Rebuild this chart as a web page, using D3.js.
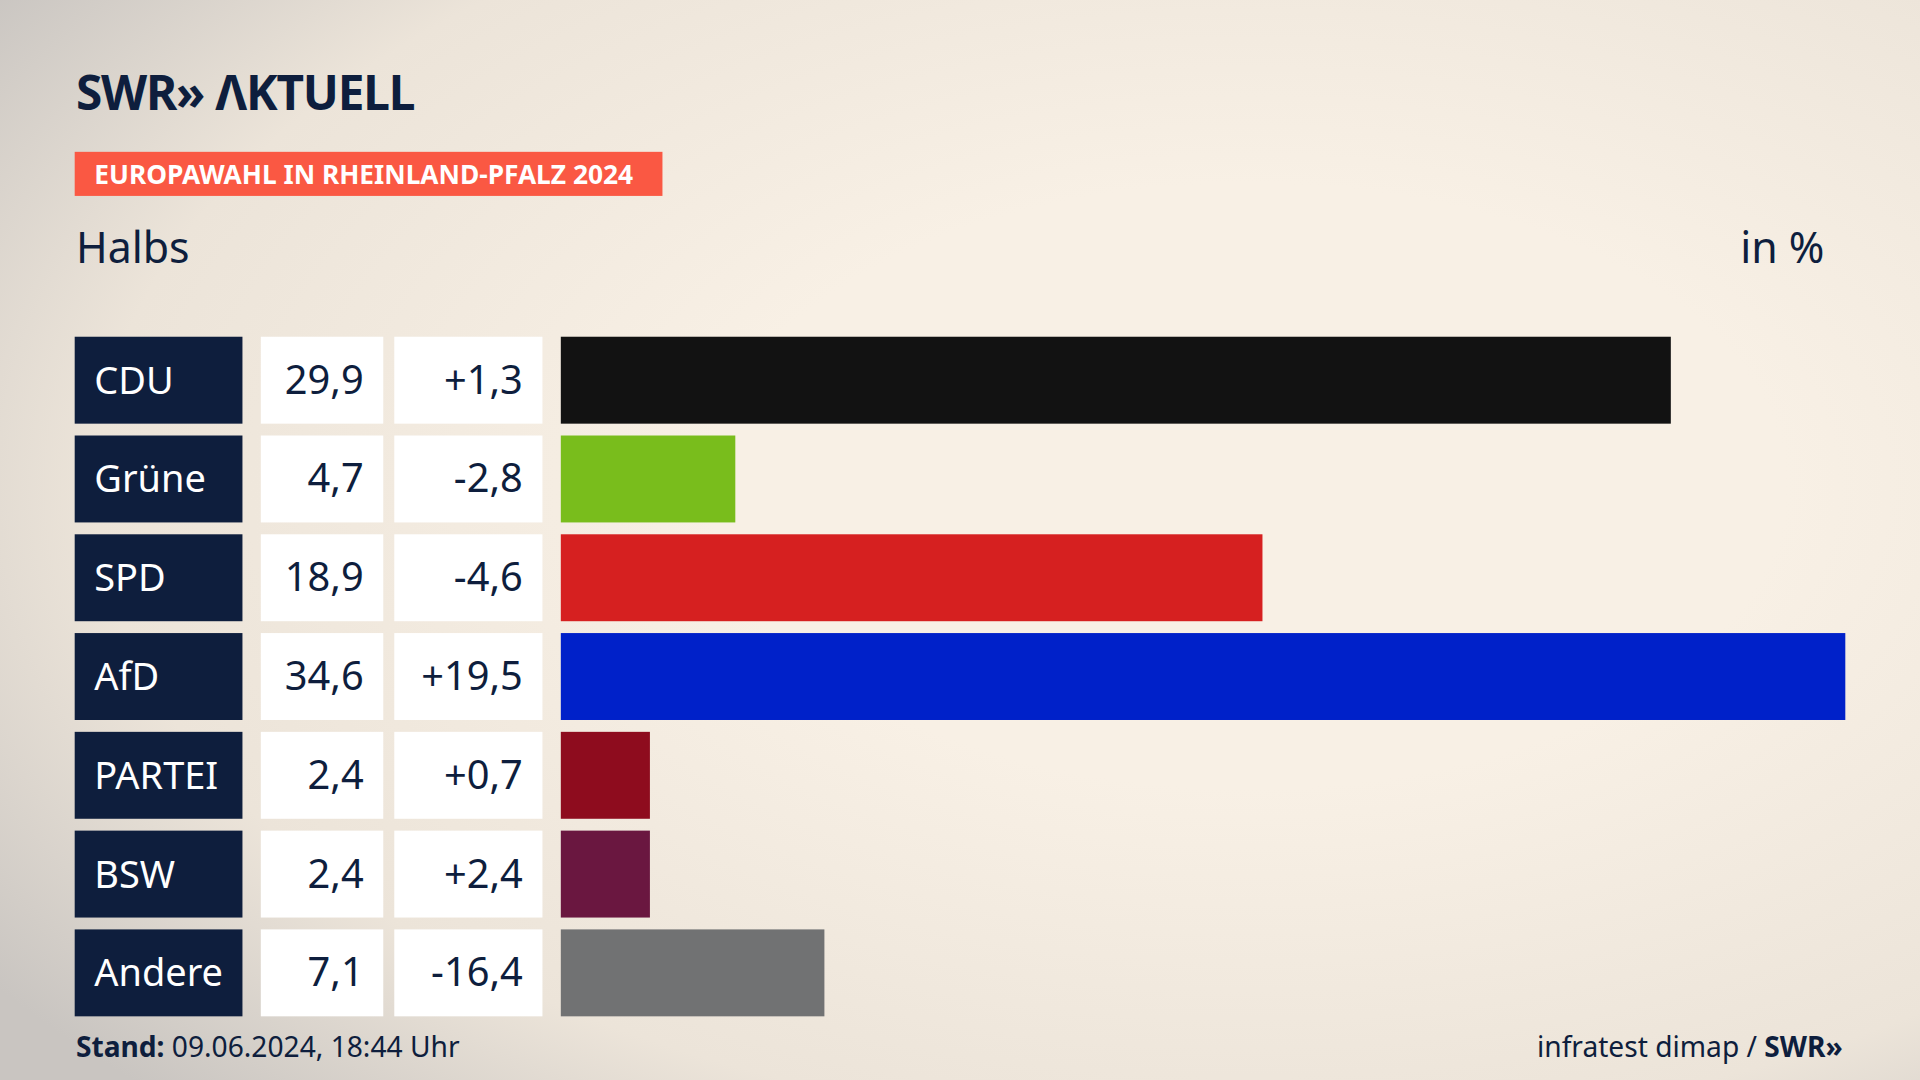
<!DOCTYPE html>
<html><head><meta charset="utf-8">
<script src="https://cdn.jsdelivr.net/npm/d3@7"></script>
<style>body{margin:0;overflow:hidden}svg{display:block;font-family:"Noto Sans",sans-serif}</style>
</head><body><svg id="c" width="1920" height="1080" viewBox="0 0 1568 882"></svg>
<script>
const parties = ["CDU", "Grüne", "SPD", "AfD", "PARTEI", "BSW", "Andere"];
const shares = [29.9, 4.7, 18.9, 34.6, 2.4, 2.4, 7.1];
const diffs = ["+1,3", "-2,8", "-4,6", "+19,5", "+0,7", "+2,4", "-16,4"];
const colors = ["#121212", "#79bd1c", "#d62020", "#0021c9", "#8e0c1e", "#6a1740", "#717273"];

const svg = d3.select("#c");
const navy = "#0e1e3d";
const defs = svg.append("defs");
const g1 = defs.append("radialGradient").attr("id", "bg").attr("cx", "0.65").attr("cy", "0.45").attr("r", "0.8");
g1.append("stop").attr("offset", "0.35").attr("stop-color", "#f8f0e5");
g1.append("stop").attr("offset", "0.75").attr("stop-color", "#ece4d9");
g1.append("stop").attr("offset", "1").attr("stop-color", "#c9c5c1");
svg.append("rect").attr("width", 1568).attr("height", 882).attr("fill", "url(#bg)");

svg.append("text").attr("x", 62).attr("y", 90).attr("font-size", 39).attr("font-weight", 700)
  .attr("fill", navy).attr("letter-spacing", -1).text("SWR» ΛKTUELL");
svg.append("rect").attr("x", 61).attr("y", 124).attr("width", 480).attr("height", 36).attr("fill", "#fa5843");
svg.append("text").attr("x", 77).attr("y", 150).attr("font-size", 21.5).attr("font-weight", 700)
  .attr("fill", "#fff").text("EUROPAWAHL IN RHEINLAND-PFALZ 2024");
svg.append("text").attr("x", 62).attr("y", 215).attr("font-size", 35).attr("fill", navy).text("Halbs");
svg.append("text").attr("x", 1490).attr("y", 215).attr("font-size", 35).attr("fill", navy)
  .attr("text-anchor", "end").text("in %");

const y = d3.scaleBand().domain(parties).range([275, 830]).paddingInner(0.12);
const x = d3.scaleLinear().domain([0, 34.6]).range([458, 1507]);
const fmt = v => String(v).replace(".", ",");

const row = svg.selectAll("g.row").data(parties).join("g").attr("class", "row")
  .attr("transform", d => `translate(0,${y(d)})`);
const h = y.bandwidth(), mid = h / 2 + 11;
row.append("rect").attr("x", 61).attr("width", 137).attr("height", h).attr("fill", navy);
row.append("text").attr("x", 77).attr("y", mid).attr("font-size", 31).attr("fill", "#fff").text(d => d);
row.append("rect").attr("x", 213).attr("width", 100).attr("height", h).attr("fill", "#fff");
row.append("text").attr("x", 297).attr("y", mid).attr("font-size", 32.5).attr("fill", navy)
  .attr("text-anchor", "end").text((d, i) => fmt(shares[i]));
row.append("rect").attr("x", 322).attr("width", 121).attr("height", h).attr("fill", "#fff");
row.append("text").attr("x", 427).attr("y", mid).attr("font-size", 32.5).attr("fill", navy)
  .attr("text-anchor", "end").text((d, i) => diffs[i]);
row.append("rect").attr("x", x(0)).attr("width", (d, i) => x(shares[i]) - x(0)).attr("height", h)
  .attr("fill", (d, i) => colors[i]);

const ft = svg.append("text").attr("x", 62).attr("y", 863).attr("font-size", 23).attr("fill", navy);
ft.append("tspan").attr("font-weight", 700).text("Stand:");
ft.append("tspan").text(" 09.06.2024, 18:44 Uhr");
const fr = svg.append("text").attr("x", 1505).attr("y", 863).attr("font-size", 23).attr("fill", navy).attr("text-anchor", "end");
fr.append("tspan").text("infratest dimap / ");
fr.append("tspan").attr("font-weight", 700).text("SWR»");
</script></body></html>
